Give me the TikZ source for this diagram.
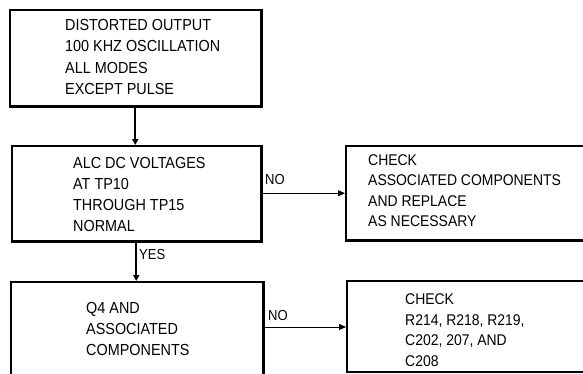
\documentclass[tikz,border=0pt]{standalone}
\usepackage{fontspec}
\setmainfont{Liberation Sans}[FakeStretch=0.9]
\usetikzlibrary{arrows.meta,calc}
\begin{document}
\begin{tikzpicture}[x=1pt,y=-1pt,
  box/.style={draw,line width=1.5pt,inner sep=0pt,anchor=north west},
  txt/.style={anchor=west,align=left,inner sep=0pt,font=\fontsize{16}{21.3}\selectfont},
  txts/.style={anchor=west,align=left,inner sep=0pt,font=\fontsize{15.5}{20.5}\selectfont},
  lab/.style={anchor=west,inner sep=0pt,font=\fontsize{14.5}{16}\selectfont},
  flow/.style={line width=1.6pt,-{Triangle[length=6pt,width=6pt]}},
  hflow/.style={line width=1pt,-{Triangle[length=7pt,width=6pt]}},
  shadow/.style={line width=3.5pt}]
\useasboundingbox (0,0) rectangle (583,373);
\clip (0,0) rectangle (583,373);
% boxes
\node[box,minimum width=251pt,minimum height=96pt] (b1) at (9,9) {};
\node[box,minimum width=249pt,minimum height=95pt] (b2) at (11,145) {};
\node[box,minimum width=260pt,minimum height=94pt] (b3) at (345,145) {};
\node[box,minimum width=252pt,minimum height=100pt] (b4) at (10,281) {};
\node[box,minimum width=260pt,minimum height=91pt] (b5) at (346,280) {};
% heavier bottom/right edges
\draw[shadow] (b1.south west) -- (b1.south east) -- (b1.north east);
\draw[shadow] (b2.south west) -- (b2.south east) -- (b2.north east);
\draw[shadow] (b3.south west) -- (b3.south east);
\draw[line width=3pt] (b4.north east) -- (b4.south east);
% texts
\node[txt] (t1) at (65,57) {DISTORTED OUTPUT\\100 KHZ OSCILLATION\\ALL MODES\\EXCEPT PULSE};
\node[txt] (t2) at (73,194.5) {ALC DC VOLTAGES\\AT TP10\\THROUGH TP15\\NORMAL};
\node[txts] (t3) at (368,190.5) {CHECK\\ASSOCIATED COMPONENTS\\AND REPLACE\\AS NECESSARY};
\node[txt] (t4) at (86,329) {Q4 AND\\ASSOCIATED\\COMPONENTS};
\node[txts] (t5) at (405,330) {CHECK\\R214, R218, R219,\\C202, 207, AND\\C208};
% connectors
\draw[flow] (b1.south) -- (b1.south |- b2.north);
\draw[flow] (b2.south) -- (b2.south |- b4.north);
\draw[hflow] (b2.east) -- (b2.east -| b3.west);
\coordinate (n2) at ($(b4.north east)+(0,46)$);
\draw[hflow] (n2) -- (n2 -| b5.west);
% labels
\node[lab] (no1) at (265,180) {NO};
\node[lab] (yes) at (139,255) {YES};
\node[lab] (no2) at (268,315) {NO};
\end{tikzpicture}
\end{document}
